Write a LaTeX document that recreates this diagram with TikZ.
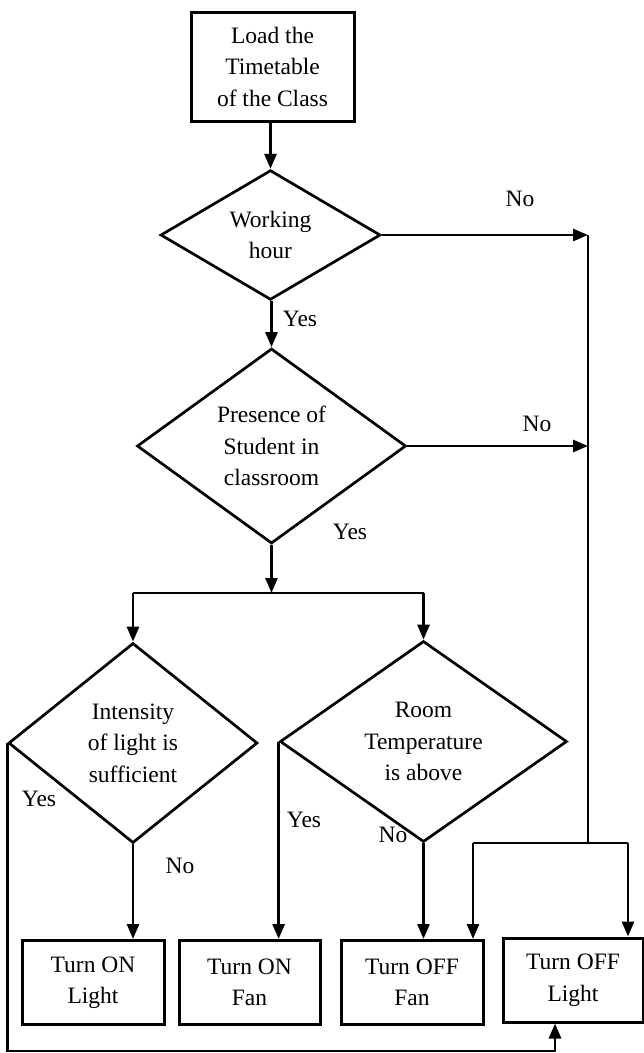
\documentclass[tikz,border=0pt]{standalone}
\usepackage{fontspec}
\setmainfont{Liberation Serif}
\usetikzlibrary{shapes.geometric,arrows.meta}
\begin{document}
\begin{tikzpicture}[x=1pt,y=-1pt,
  every node/.style={font=\fontsize{23.5}{31.5}\selectfont},
  procbox/.style={draw,line width=3pt,rectangle,align=center,inner sep=0pt},
  decision/.style={draw,line width=2.7pt,diamond,align=center,inner sep=0pt},
  conn/.style={line width=2.8pt},
  flow/.style={line width=2.8pt,-{Triangle[length=15pt,width=12pt]}},
  thinconn/.style={line width=1.8pt},
  lbl/.style={inner sep=0pt}]
\useasboundingbox (0,0) rectangle (644,1053);
% nodes
\node[procbox,minimum width=163pt,minimum height=109pt] (load) at (272.5,66.5) {Load the\\Timetable\\of the Class};
\node[decision,minimum width=220pt,minimum height=128pt] (work) at (270.5,235) {Working\\hour};
\node[decision,minimum width=269pt,minimum height=195pt] (pres) at (271.5,446) {Presence of\\Student in\\classroom};
\node[decision,minimum width=249pt,minimum height=200pt] (intn) at (133,743) {Intensity\\of light is\\sufficient};
\node[decision,minimum width=287pt,minimum height=201pt] (room) at (423.5,741.5) {Room\\Temperature\\is above};
\node[procbox,minimum width=142pt,minimum height=84pt] (onlight) at (93,982.5) {Turn ON\\Light};
\node[procbox,minimum width=141pt,minimum height=84pt] (onfan) at (249.5,982.5) {Turn ON\\Fan};
\node[procbox,minimum width=142pt,minimum height=84pt] (offfan) at (412,982.5) {Turn OFF\\Fan};
\node[procbox,minimum width=140pt,minimum height=84pt] (offlight) at (573,980) {Turn OFF\\Light};
% coordinates
\coordinate (rtop) at (588,235);
\coordinate (rmid) at (588,446);
\coordinate (rbot) at (588,843);
\coordinate (bl) at (473,843);
\coordinate (br) at (628,843);
\coordinate (split) at (271.5,593);
\coordinate (splitl) at (133,593);
\coordinate (splitr) at (423.5,593);
\coordinate (botr) at (555,1051);
% connectors
\draw[flow] (work.north |- load.south) -- (work.north);
\draw[flow] (work.east) -- (rtop);
\draw[flow] (pres.north |- work.south) -- (pres.north);
\draw[flow] (pres.east) -- (rmid);
\draw[flow] (pres.south) -- (split);
\draw[conn] (splitl) -- (splitr);
\draw[flow] (splitl) -- (intn.north);
\draw[flow] (splitr) -- (room.north);
\draw[flow] (intn.south) -- (intn.south |- onlight.north);
\draw[flow] (intn.west) -- (intn.west |- botr) -- (botr) -- (botr |- offlight.south);
\draw[flow] (room.west) -- (room.west |- onfan.north);
\draw[flow] (room.south) -- (room.south |- offfan.north);
\draw[thinconn] (rtop) -- (rbot);
\draw[conn] (bl) -- (br);
\draw[flow] (bl) -- (bl |- offfan.north);
\draw[flow] (br) -- (br |- offlight.north);
% labels
\node[lbl] (l1) at (520,199) {No};
\node[lbl] (l2) at (300,319) {Yes};
\node[lbl] (l3) at (537,424) {No};
\node[lbl] (l4) at (350,532) {Yes};
\node[lbl] (l5) at (39,799) {Yes};
\node[lbl] (l6) at (180,866) {No};
\node[lbl] (l7) at (304,820) {Yes};
\node[lbl] (l8) at (393,835) {No};
\end{tikzpicture}
\end{document}
